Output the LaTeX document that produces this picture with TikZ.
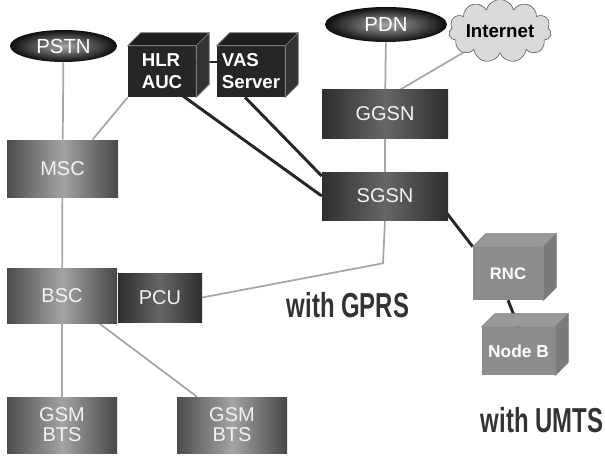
\documentclass[tikz,border=0pt]{standalone}
\usepackage{fontspec}
\setmainfont{Liberation Sans}
\usepackage{tikz}
\usetikzlibrary{shapes.geometric,shapes.symbols,backgrounds}
\tikzset{
  gbox/.style={rectangle, inner sep=0pt, text=black!5, align=center,
    left color=black!70, right color=black!72, middle color=black!36,
    font=\fontsize{15}{15}\selectfont},
  dbox/.style={gbox, left color=black!82, right color=black!82, middle color=black!60},
  blob/.style={ellipse, inner sep=0pt, text=white, shading=radial,
    inner color=black!35, outer color=black!95, font=\fontsize{15.3}{16}\selectfont},
  cube/.style={rectangle, inner sep=0pt, fill=black!85, text=white, align=left,
    font=\bfseries\fontsize{14}{16.5}\selectfont},
  lcube/.style={cube, fill=black!45, align=center},
  thin link/.style={draw=black!35, line width=1.3pt},
  thick link/.style={draw=black!85, line width=2.2pt},
  tag/.style={text=black!80, font=\bfseries\fontsize{26}{26}\selectfont}
}
% extra faces of a box drawn as a cube
\newcommand{\cubefaces}[3]{%
  \filldraw[fill=#2, draw=black!50, line width=0.5pt] (#1.north west) -- ++(13,-13)
    -- ([shift={(13,-13)}]#1.north east) -- (#1.north east) -- cycle;
  \filldraw[fill=#3, draw=black!50, line width=0.5pt] (#1.north east) -- ++(13,-13)
    -- ([shift={(13,-13)}]#1.south east) -- (#1.south east) -- cycle;
}
\newcommand{\narrow}[1]{\scalebox{0.69}[1]{#1}}

\begin{document}
\begin{tikzpicture}[x=0.75pt, y=-0.75pt]
\useasboundingbox (0,0) rectangle (605,456);

% core network
\node[blob, minimum width=80.25pt, minimum height=24pt] (pstn) at (63.5,46) {PSTN};
\node[cube, minimum width=51pt, minimum height=38.25pt] (hlr) at (162,71.5) {HLR\\AUC};
\node[cube, minimum width=51pt, minimum height=38.25pt] (vas) at (251,71.5) {VAS\\Server};
\node[gbox, minimum width=83.25pt, minimum height=42.75pt] (msc) at (62.5,168.5) {MSC};
\node[blob, minimum width=91.5pt, minimum height=26.25pt] (pdn) at (386,24.5) {PDN};
\node[cloud, cloud puffs=11, aspect=2.2, inner sep=0pt, fill=black!15, draw=black!70,
  minimum width=70.5pt, minimum height=31.5pt,
  font=\bfseries\fontsize{14}{14}\selectfont] (inet) at (500,31) {Internet};
\node[dbox, minimum width=94.5pt, minimum height=36pt] (ggsn) at (385,114) {GGSN};
\node[dbox, minimum width=94.5pt, minimum height=36pt] (sgsn) at (385,196) {SGSN};

% radio side
\node[gbox, minimum width=82.5pt, minimum height=41.25pt] (bsc) at (62,295.5) {BSC};
\node[dbox, minimum width=63pt, minimum height=36.75pt] (pcu) at (160,297.5) {PCU};
\node[gbox, minimum width=82.5pt, minimum height=42pt] (bts1) at (62,425) {GSM\\BTS};
\node[gbox, minimum width=82.5pt, minimum height=42pt] (bts2) at (232,425) {GSM\\BTS};
\node[lcube, minimum width=52.5pt, minimum height=39.75pt,
  font=\bfseries\fontsize{12.5}{14}\selectfont] (rnc) at (508,273.5) {RNC};
\node[lcube, minimum width=54.75pt, minimum height=36pt,
  font=\bfseries\fontsize{13}{14}\selectfont] (nodeb) at (518.5,351) {Node B};

\cubefaces{hlr}{black!88}{black!80}
\cubefaces{vas}{black!88}{black!80}
\cubefaces{rnc}{black!40}{black!52}
\cubefaces{nodeb}{black!40}{black!52}

\node[tag] (gprs) at (348,305) {\narrow{with GPRS}};
\node[tag] (umts) at (542,420) {\narrow{with UMTS}};

\begin{scope}[on background layer]
\draw[thin link] (pstn) -- (msc);
\draw[thin link] (msc) -- (bsc);
\draw[thin link] (bsc) -- (bts1);
\draw[thin link] (bsc) -- ([shift={(-35,0)}]bts2.north);
\draw[thin link] (hlr.south west) -- ([shift={(30,0)}]msc.north);
\draw[thin link] (pdn) -- (ggsn);
\draw[thin link] (inet) -- ([shift={(15,0)}]ggsn.north);
\draw[thin link] (ggsn) -- (sgsn);
\draw[thin link] (pcu.east) -- ([shift={(-2,43)}]sgsn.south) -- (sgsn.south);
\draw[thick link] ([shift={(0,-9.5)}]hlr.east) -- ([shift={(0,-9.5)}]vas.west);
\draw[thick link] ([shift={(20,-2)}]hlr.south) -- (sgsn.west);
\draw[thick link] ([shift={(-6,0)}]vas.south) -- ([shift={(0,-20)}]sgsn.west);
\draw[thick link] ([shift={(-6,-13)}]sgsn.south east) -- (rnc.north west);
\draw[thick link] (rnc.south) -- (nodeb.north);
\end{scope}
\end{tikzpicture}
\end{document}
